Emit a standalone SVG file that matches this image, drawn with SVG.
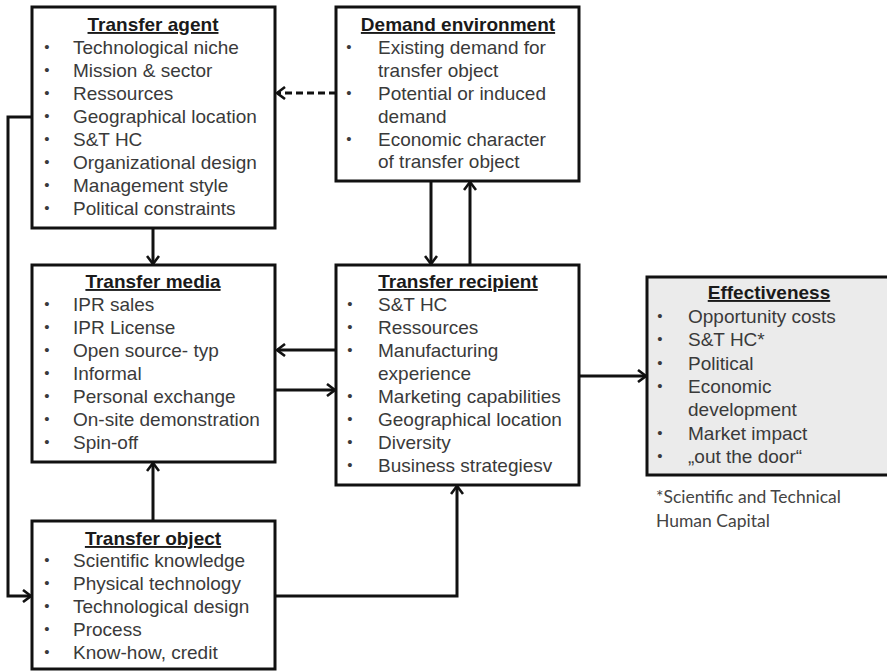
<svg xmlns="http://www.w3.org/2000/svg" width="887" height="671" viewBox="0 0 887 671">
<defs>
<style>
.box{fill:#fff;stroke:#111;stroke-width:3}
.eff{fill:#ebebeb;stroke:#111;stroke-width:3}
.t{font-family:"Liberation Sans",Arial,sans-serif;font-size:19px;font-weight:bold;fill:#1a1a1a;text-anchor:middle;text-decoration:underline}
.i{font-family:"Liberation Sans",Arial,sans-serif;font-size:19px;fill:#3a3a3a}
.b{font-family:"Liberation Sans",Arial,sans-serif;font-size:15px;fill:#3a3a3a;text-anchor:middle;transform:translateY(-2px)}
.c{fill:none;stroke:#111;stroke-width:3;marker-end:url(#arr)}
.d{stroke-dasharray:7 4}
.fn{font-family:Lato,"Open Sans",sans-serif;font-size:17.5px;fill:#444}
</style>
<marker id="arr" viewBox="0 0 12 14" refX="10" refY="7" markerWidth="12" markerHeight="14" orient="auto" markerUnits="userSpaceOnUse">
<path d="M2,1 L10,7 L2,13" fill="none" stroke="#111" stroke-width="2.6"/>
</marker>
</defs>
<rect width="887" height="671" fill="#fff"/>

<g id="connectors">
<path class="c" d="M153,228 L153,264"/>
<path class="c d" d="M336,93 L277,93"/>
<path class="c" d="M431,181 L431,264"/>
<path class="c" d="M470,265 L470,182"/>
<path class="c" d="M336,350 L277,350"/>
<path class="c" d="M275,390 L335,390"/>
<path class="c" d="M579,376 L646,376"/>
<path class="c" d="M153,521 L153,463"/>
<path class="c" d="M275,596 L457,596 L457,486"/>
<path class="c" d="M32,117 L8,117 L8,596 L31,596"/>
</g>

<g id="transfer-agent">
<rect class="box" x="32" y="7" width="243" height="221"/>
<text class="t" x="153" y="31">Transfer agent</text>
<text class="b" x="47" y="54">•</text><text class="i" x="73" y="54">Technological niche</text>
<text class="b" x="47" y="77">•</text><text class="i" x="73" y="77">Mission &amp; sector</text>
<text class="b" x="47" y="100">•</text><text class="i" x="73" y="100">Ressources</text>
<text class="b" x="47" y="123">•</text><text class="i" x="73" y="123">Geographical location</text>
<text class="b" x="47" y="146">•</text><text class="i" x="73" y="146">S&amp;T HC</text>
<text class="b" x="47" y="169">•</text><text class="i" x="73" y="169">Organizational design</text>
<text class="b" x="47" y="192">•</text><text class="i" x="73" y="192">Management style</text>
<text class="b" x="47" y="215">•</text><text class="i" x="73" y="215">Political constraints</text>
</g>

<g id="demand-environment">
<rect class="box" x="336" y="7" width="243" height="174"/>
<text class="t" x="458" y="31">Demand environment</text>
<text class="b" x="349" y="54">•</text><text class="i" x="378" y="54">Existing demand for</text>
<text class="i" x="378" y="77">transfer object</text>
<text class="b" x="349" y="100">•</text><text class="i" x="378" y="100">Potential or induced</text>
<text class="i" x="378" y="123">demand</text>
<text class="b" x="349" y="146">•</text><text class="i" x="378" y="146">Economic character</text>
<text class="i" x="378" y="168">of transfer object</text>
</g>

<g id="transfer-media">
<rect class="box" x="32" y="265" width="243" height="197"/>
<text class="t" x="153" y="288">Transfer media</text>
<text class="b" x="47" y="311">•</text><text class="i" x="73" y="311">IPR sales</text>
<text class="b" x="47" y="334">•</text><text class="i" x="73" y="334">IPR License</text>
<text class="b" x="47" y="357">•</text><text class="i" x="73" y="357">Open source- typ</text>
<text class="b" x="47" y="380">•</text><text class="i" x="73" y="380">Informal</text>
<text class="b" x="47" y="403">•</text><text class="i" x="73" y="403">Personal exchange</text>
<text class="b" x="47" y="426">•</text><text class="i" x="73" y="426">On-site demonstration</text>
<text class="b" x="47" y="449">•</text><text class="i" x="73" y="449">Spin-off</text>
</g>

<g id="transfer-recipient">
<rect class="box" x="336" y="265" width="243" height="220"/>
<text class="t" x="458" y="288">Transfer recipient</text>
<text class="b" x="350" y="311">•</text><text class="i" x="378" y="311">S&amp;T HC</text>
<text class="b" x="350" y="334">•</text><text class="i" x="378" y="334">Ressources</text>
<text class="b" x="350" y="357">•</text><text class="i" x="378" y="357">Manufacturing</text>
<text class="i" x="378" y="380">experience</text>
<text class="b" x="350" y="403">•</text><text class="i" x="378" y="403">Marketing capabilities</text>
<text class="b" x="350" y="426">•</text><text class="i" x="378" y="426">Geographical location</text>
<text class="b" x="350" y="449">•</text><text class="i" x="378" y="449">Diversity</text>
<text class="b" x="350" y="472">•</text><text class="i" x="378" y="472">Business strategiesv</text>
</g>

<g id="effectiveness">
<rect class="eff" x="647" y="277" width="245" height="198"/>
<text class="t" x="769" y="299">Effectiveness</text>
<text class="b" x="660" y="323">•</text><text class="i" x="688" y="323">Opportunity costs</text>
<text class="b" x="660" y="346">•</text><text class="i" x="688" y="346">S&amp;T HC*</text>
<text class="b" x="660" y="370">•</text><text class="i" x="688" y="370">Political</text>
<text class="b" x="660" y="393">•</text><text class="i" x="688" y="393">Economic</text>
<text class="i" x="688" y="416">development</text>
<text class="b" x="660" y="440">•</text><text class="i" x="688" y="440">Market impact</text>
<text class="b" x="660" y="463">•</text><text class="i" x="688" y="463">„out the door“</text>
</g>

<g id="footnote">
<text class="fn" x="656" y="503">*Scientific and Technical</text>
<text class="fn" x="656" y="527">Human Capital</text>
</g>

<g id="transfer-object">
<rect class="box" x="32" y="521" width="243" height="148"/>
<text class="t" x="153" y="545">Transfer object</text>
<text class="b" x="47" y="567">•</text><text class="i" x="73" y="567">Scientific knowledge</text>
<text class="b" x="47" y="590">•</text><text class="i" x="73" y="590">Physical technology</text>
<text class="b" x="47" y="613">•</text><text class="i" x="73" y="613">Technological design</text>
<text class="b" x="47" y="636">•</text><text class="i" x="73" y="636">Process</text>
<text class="b" x="47" y="659">•</text><text class="i" x="73" y="659">Know-how, credit</text>
</g>
</svg>
